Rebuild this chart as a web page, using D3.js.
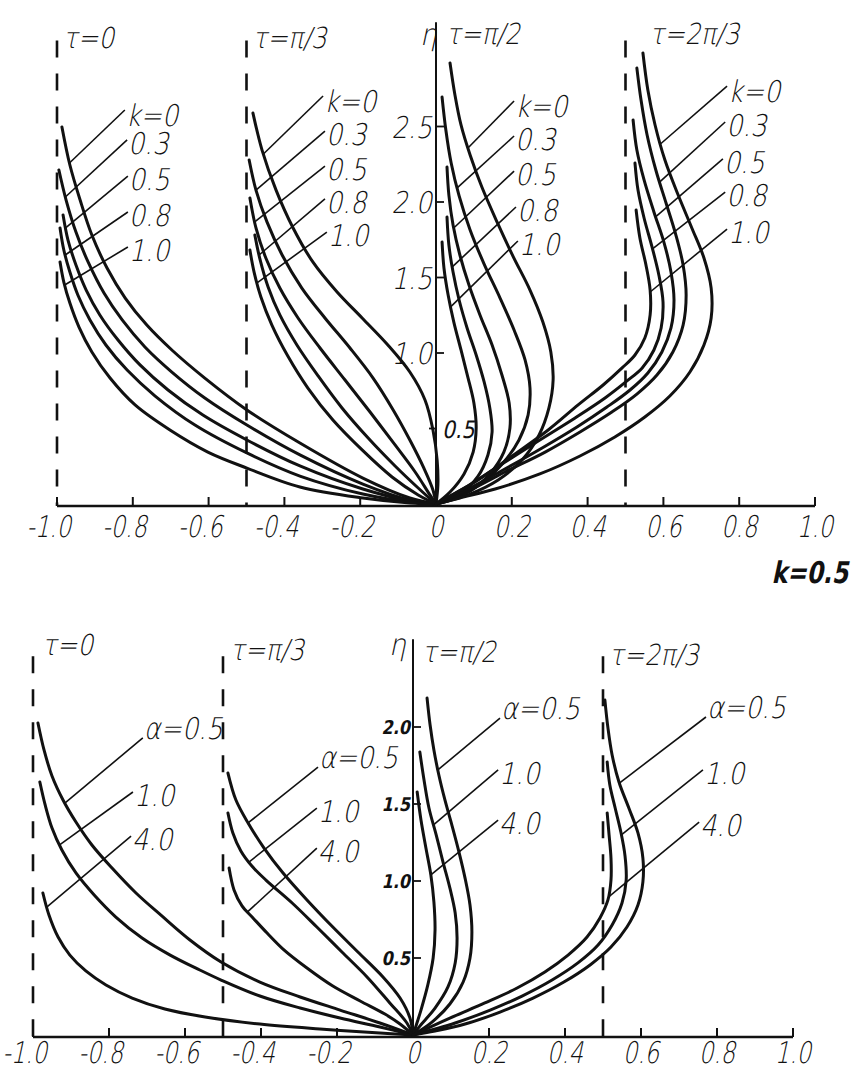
<!DOCTYPE html>
<html><head><meta charset="utf-8">
<script src="https://cdn.jsdelivr.net/npm/d3@7/dist/d3.min.js"></script>
<style>body{margin:0;background:#fff}</style>
</head><body><svg id="c" width="862" height="1072"></svg>
<script>
// ---------- DATA ----------
const xTicks = [-1.0,-0.8,-0.6,-0.4,-0.2,0,0.2,0.4,0.6,0.8,1.0];
const xTickLabels = ["-1.0","-0.8","-0.6","-0.4","-0.2","0","0.2","0.4","0.6","0.8","1.0"];
const etaTicksTop = [1.0,1.5,2.0,2.5];
const etaTickLabelsTop = ["1.0","1.5","2.0","2.5"];
const etaTicksBottom = [0.5,1.0,1.5,2.0];
const etaTickLabelsBottom = ["0.5","1.0","1.5","2.0"];
const tauLines = [-1.0,-0.5,0.5];
const tauLabels = ["τ=0","τ=π/3","τ=π/2","τ=2π/3"];

// top panel (k varies), tau = 0
const T0_k0  = [[-0.987,2.497],[-0.966,2.245],[-0.939,2.013],[-0.908,1.781],[-0.868,1.563],[-0.820,1.364],[-0.763,1.185],[-0.697,1.020],[-0.610,0.834],[-0.499,0.623],[-0.359,0.404],[-0.193,0.172],[-0.069,0.040],[0,0]];
const T0_k03 = [[-0.995,2.212],[-0.976,2.013],[-0.950,1.801],[-0.918,1.603],[-0.876,1.397],[-0.828,1.219],[-0.768,1.040],[-0.697,0.874],[-0.610,0.702],[-0.499,0.523],[-0.359,0.325],[-0.193,0.132],[-0.069,0.026],[0,0]];
const T0_k05 = [[-0.984,1.914],[-0.971,1.748],[-0.950,1.583],[-0.923,1.417],[-0.887,1.252],[-0.839,1.086],[-0.781,0.921],[-0.707,0.755],[-0.615,0.589],[-0.499,0.424],[-0.359,0.252],[-0.193,0.099],[-0.069,0.020],[0,0]];
const T0_k08 = [[-0.992,1.828],[-0.982,1.682],[-0.966,1.536],[-0.945,1.384],[-0.913,1.219],[-0.871,1.053],[-0.815,0.887],[-0.741,0.715],[-0.636,0.523],[-0.499,0.338],[-0.359,0.185],[-0.193,0.066],[-0.069,0.013],[0,0]];
const T0_k10 = [[-0.992,1.603],[-0.982,1.470],[-0.966,1.331],[-0.942,1.172],[-0.908,1.007],[-0.860,0.834],[-0.794,0.656],[-0.702,0.490],[-0.602,0.344],[-0.499,0.238],[-0.359,0.113],[-0.193,0.040],[-0.069,0.007],[0,0]];
// tau = pi/3
const T1_k0  = [[-0.483,2.589],[-0.459,2.344],[-0.422,2.079],[-0.377,1.828],[-0.325,1.603],[-0.261,1.404],[-0.195,1.232],[-0.127,1.053],[-0.069,0.874],[-0.029,0.689],[-0.008,0.490],[0.003,0.291],[0.005,0.126],[0,0]];
const T1_k03 = [[-0.493,2.278],[-0.475,2.079],[-0.446,1.868],[-0.406,1.649],[-0.354,1.430],[-0.293,1.232],[-0.227,1.033],[-0.166,0.834],[-0.113,0.623],[-0.069,0.424],[-0.032,0.238],[-0.008,0.093],[0,0]];
const T1_k05 = [[-0.491,2.026],[-0.475,1.828],[-0.449,1.629],[-0.412,1.430],[-0.364,1.232],[-0.306,1.033],[-0.240,0.821],[-0.174,0.609],[-0.108,0.391],[-0.055,0.212],[-0.016,0.060],[0,0]];
const T1_k08 = [[-0.478,1.781],[-0.464,1.616],[-0.443,1.437],[-0.412,1.252],[-0.367,1.053],[-0.311,0.848],[-0.248,0.636],[-0.179,0.437],[-0.108,0.252],[-0.047,0.106],[0,0]];
const T1_k10 = [[-0.491,1.682],[-0.480,1.536],[-0.462,1.371],[-0.433,1.185],[-0.391,0.980],[-0.338,0.768],[-0.272,0.556],[-0.195,0.358],[-0.116,0.179],[-0.047,0.060],[0,0]];
// tau = pi/2
const T2_k0  = [[0.037,2.921],[0.050,2.709],[0.066,2.510],[0.090,2.311],[0.121,2.099],[0.161,1.868],[0.203,1.642],[0.248,1.417],[0.282,1.205],[0.303,1.007],[0.309,0.821],[0.298,0.636],[0.272,0.457],[0.227,0.291],[0.164,0.159],[0.090,0.066],[0,0]];
const T2_k03 = [[0.016,2.695],[0.026,2.477],[0.040,2.258],[0.061,2.040],[0.090,1.815],[0.127,1.589],[0.169,1.364],[0.206,1.152],[0.235,0.954],[0.248,0.768],[0.243,0.589],[0.219,0.424],[0.177,0.272],[0.121,0.139],[0.058,0.046],[0,0]];
const T2_k05 = [[0.029,2.232],[0.034,2.046],[0.045,1.848],[0.063,1.649],[0.087,1.450],[0.116,1.252],[0.148,1.053],[0.174,0.854],[0.193,0.669],[0.195,0.503],[0.179,0.344],[0.142,0.199],[0.090,0.086],[0,0]];
const T2_k08 = [[0.029,1.901],[0.034,1.715],[0.045,1.536],[0.061,1.351],[0.082,1.166],[0.106,0.987],[0.127,0.808],[0.142,0.636],[0.148,0.477],[0.137,0.325],[0.111,0.185],[0.063,0.066],[0,0]];
const T2_k10 = [[0.016,1.735],[0.021,1.563],[0.032,1.384],[0.047,1.205],[0.066,1.020],[0.084,0.841],[0.100,0.669],[0.106,0.503],[0.098,0.344],[0.074,0.199],[0.037,0.079],[0,0]];
// tau = 2pi/3
const T3_k0  = [[0.546,2.987],[0.559,2.742],[0.578,2.510],[0.604,2.278],[0.639,2.046],[0.675,1.828],[0.707,1.629],[0.726,1.430],[0.726,1.232],[0.707,1.053],[0.670,0.874],[0.617,0.715],[0.551,0.576],[0.472,0.444],[0.380,0.318],[0.274,0.199],[0.156,0.099],[0.063,0.040],[0,0]];
const T3_k03 = [[0.530,2.887],[0.541,2.675],[0.557,2.444],[0.580,2.212],[0.607,1.993],[0.633,1.781],[0.652,1.583],[0.660,1.384],[0.652,1.185],[0.625,1.007],[0.583,0.854],[0.530,0.728],[0.464,0.609],[0.380,0.477],[0.288,0.344],[0.182,0.212],[0.090,0.093],[0,0]];
const T3_k05 = [[0.520,2.543],[0.530,2.344],[0.549,2.146],[0.575,1.934],[0.602,1.728],[0.620,1.536],[0.628,1.351],[0.620,1.166],[0.596,1.007],[0.559,0.868],[0.512,0.755],[0.451,0.642],[0.372,0.510],[0.280,0.371],[0.177,0.225],[0.084,0.099],[0,0]];
const T3_k08 = [[0.525,2.258],[0.533,2.079],[0.549,1.894],[0.570,1.702],[0.588,1.517],[0.599,1.338],[0.594,1.166],[0.575,1.020],[0.544,0.901],[0.504,0.815],[0.446,0.702],[0.367,0.570],[0.274,0.424],[0.174,0.265],[0.084,0.119],[0,0]];
const T3_k10 = [[0.528,1.947],[0.538,1.762],[0.554,1.583],[0.565,1.417],[0.565,1.252],[0.551,1.099],[0.525,0.987],[0.491,0.901],[0.441,0.788],[0.375,0.656],[0.296,0.490],[0.201,0.318],[0.111,0.159],[0.037,0.053],[0,0]];

// bottom panel (k = 0.5, alpha varies)
const B0_a05 = [[-0.987,2.026],[-0.971,1.851],[-0.950,1.682],[-0.921,1.526],[-0.887,1.383],[-0.845,1.234],[-0.792,1.084],[-0.729,0.922],[-0.661,0.773],[-0.587,0.617],[-0.505,0.474],[-0.403,0.344],[-0.297,0.247],[-0.192,0.162],[-0.087,0.078],[0,0]];
const B0_a10 = [[-0.982,1.643],[-0.968,1.494],[-0.950,1.344],[-0.924,1.201],[-0.887,1.052],[-0.839,0.909],[-0.782,0.766],[-0.713,0.630],[-0.639,0.519],[-0.561,0.422],[-0.505,0.357],[-0.403,0.253],[-0.297,0.175],[-0.192,0.110],[-0.087,0.052],[0,0]];
const B0_a40 = [[-0.974,0.922],[-0.958,0.779],[-0.934,0.636],[-0.903,0.519],[-0.861,0.416],[-0.808,0.325],[-0.739,0.240],[-0.653,0.169],[-0.547,0.117],[-0.403,0.071],[-0.245,0.039],[-0.087,0.013],[0,0]];
const B1_a05 = [[-0.487,1.701],[-0.466,1.526],[-0.434,1.377],[-0.392,1.214],[-0.342,1.052],[-0.279,0.877],[-0.211,0.701],[-0.145,0.539],[-0.079,0.377],[-0.034,0.240],[-0.008,0.110],[0,0]];
const B1_a10 = [[-0.487,1.442],[-0.474,1.312],[-0.453,1.195],[-0.424,1.097],[-0.387,1.006],[-0.318,0.857],[-0.253,0.701],[-0.187,0.539],[-0.121,0.377],[-0.061,0.208],[-0.016,0.078],[0,0]];
const B1_a40 = [[-0.484,1.084],[-0.471,0.942],[-0.450,0.838],[-0.421,0.760],[-0.384,0.662],[-0.342,0.558],[-0.279,0.435],[-0.211,0.318],[-0.139,0.221],[-0.074,0.136],[-0.034,0.071],[0,0]];
const B2_a05 = [[0.037,2.188],[0.045,2.013],[0.055,1.851],[0.068,1.688],[0.084,1.526],[0.103,1.357],[0.121,1.188],[0.137,1.019],[0.150,0.844],[0.155,0.669],[0.150,0.500],[0.132,0.344],[0.097,0.201],[0.050,0.084],[0,0]];
const B2_a10 = [[0.018,1.838],[0.029,1.656],[0.042,1.474],[0.061,1.299],[0.079,1.123],[0.097,0.955],[0.111,0.792],[0.116,0.630],[0.111,0.468],[0.092,0.312],[0.058,0.175],[0.018,0.058],[0,0]];
const B2_a40 = [[0.011,1.578],[0.021,1.396],[0.034,1.214],[0.047,1.039],[0.055,0.864],[0.058,0.682],[0.053,0.500],[0.039,0.325],[0.021,0.162],[0,0]];
const B3_a05 = [[0.505,2.175],[0.513,1.994],[0.524,1.818],[0.542,1.643],[0.568,1.474],[0.592,1.312],[0.605,1.149],[0.605,0.994],[0.592,0.844],[0.563,0.701],[0.521,0.571],[0.466,0.455],[0.397,0.344],[0.316,0.240],[0.229,0.149],[0.137,0.071],[0.058,0.026],[0,0]];
const B3_a10 = [[0.511,1.773],[0.518,1.623],[0.532,1.474],[0.547,1.318],[0.558,1.162],[0.561,1.006],[0.550,0.857],[0.524,0.714],[0.487,0.584],[0.434,0.468],[0.366,0.357],[0.287,0.253],[0.203,0.162],[0.111,0.078],[0,0]];
const B3_a40 = [[0.511,1.442],[0.516,1.299],[0.521,1.149],[0.521,1.006],[0.513,0.877],[0.492,0.760],[0.458,0.636],[0.408,0.519],[0.347,0.409],[0.274,0.305],[0.189,0.208],[0.097,0.110],[0,0]];

// leader annotations: [curve, label text, label x, label eta, hit eta]
const topLeaders = [
  [T0_k0,"k=0",-0.821,2.609,2.258],[T0_k03,"0.3",-0.815,2.411,2.033],[T0_k05,"0.5",-0.813,2.172,1.828],[T0_k08,"0.8",-0.813,1.934,1.649],[T0_k10,"1.0",-0.813,1.702,1.450],
  [T1_k0,"k=0",-0.298,2.702,2.318],[T1_k03,"0.3",-0.293,2.470,2.079],[T1_k05,"0.5",-0.293,2.238,1.868],[T1_k08,"0.8",-0.293,2.020,1.649],[T1_k10,"1.0",-0.288,1.801,1.464],
  [T2_k0,"k=0",0.206,2.669,2.358],[T2_k03,"0.3",0.206,2.437,2.093],[T2_k05,"0.5",0.206,2.205,1.828],[T2_k08,"0.8",0.211,1.967,1.570],[T2_k10,"1.0",0.216,1.742,1.305],
  [T3_k0,"k=0",0.768,2.768,2.384],[T3_k03,"0.3",0.763,2.530,2.132],[T3_k05,"0.5",0.757,2.285,1.901],[T3_k08,"0.8",0.763,2.066,1.689],[T3_k10,"1.0",0.768,1.821,1.404]
];
const bottomLeaders = [
  [B0_a05,"α=0.5",-0.711,1.929,1.506],[B0_a10,"1.0",-0.737,1.578,1.234],[B0_a40,"4.0",-0.742,1.292,0.831],
  [B1_a05,"α=0.5",-0.250,1.740,1.377],[B1_a10,"1.0",-0.253,1.474,1.123],[B1_a40,"4.0",-0.253,1.214,0.799],
  [B2_a05,"α=0.5",0.229,2.058,1.721],[B2_a10,"1.0",0.224,1.721,1.364],[B2_a40,"4.0",0.224,1.396,1.039],
  [B3_a05,"α=0.5",0.771,2.065,1.636],[B3_a10,"1.0",0.763,1.721,1.299],[B3_a40,"4.0",0.753,1.383,0.896]
];
const topCurves = [T0_k0,T0_k03,T0_k05,T0_k08,T0_k10,T1_k0,T1_k03,T1_k05,T1_k08,T1_k10,T2_k0,T2_k03,T2_k05,T2_k08,T2_k10,T3_k0,T3_k03,T3_k05,T3_k08,T3_k10];
const bottomCurves = [B0_a05,B0_a10,B0_a40,B1_a05,B1_a10,B1_a40,B2_a05,B2_a10,B2_a40,B3_a05,B3_a10,B3_a40];

// ---------- DRAW ----------
const svg = d3.select("#c");
const FONT = "'DejaVu Sans', 'Liberation Sans', sans-serif";
const ink = "#111";

function txt(x, y, s, o = {}) {
  const size = o.size || 30, sx = o.sx || 0.85;
  svg.append("text")
    .attr("transform", `translate(${x},${y}) skewX(-12) scale(${sx},1)`)
    .attr("font-family", FONT).attr("font-size", size)
    .attr("font-weight", o.weight || 300)
    .attr("text-anchor", o.anchor || "start")
    .attr("fill", ink).text(s);
}
function hitX(pts, eta) {
  for (let i = 0; i < pts.length - 1; i++) {
    const [x1, e1] = pts[i], [x2, e2] = pts[i + 1];
    if ((e1 - eta) * (e2 - eta) <= 0) { const t = (eta - e1) / ((e2 - e1) || 1); return x1 + t * (x2 - x1); }
  }
  return pts[0][0];
}

function panel(o) {
  const { x, y, curves, leaders, etaTicks, etaLabels, etaTop, dashTop, bold, labDy } = o;
  // x axis
  svg.append("line").attr("x1", x(-1)).attr("x2", x(1)).attr("y1", y(0) + 2).attr("y2", y(0) + 2)
    .attr("stroke", ink).attr("stroke-width", 2.6);
  xTicks.forEach((t, i) => {
    svg.append("line").attr("x1", x(t)).attr("x2", x(t)).attr("y1", y(0) + 2).attr("y2", y(0) - 7)
      .attr("stroke", ink).attr("stroke-width", 2);
    const lab = xTickLabels[i];
    const neg = lab.startsWith("-");
    txt(x(t) + (neg ? 14 : 0), y(0) + labDy, lab, { size: 30, anchor: neg ? "end" : "middle", sx: 0.76 });
  });
  // dashed tau lines
  tauLines.forEach(t => {
    svg.append("line").attr("x1", x(t)).attr("x2", x(t)).attr("y1", y(dashTop)).attr("y2", y(0) + 2)
      .attr("stroke", ink).attr("stroke-width", 2.6).attr("stroke-dasharray", "17,16");
  });
  // eta axis
  svg.append("line").attr("x1", x(0)).attr("x2", x(0)).attr("y1", y(etaTop)).attr("y2", y(0) + 2)
    .attr("stroke", ink).attr("stroke-width", 2);
  etaTicks.forEach((t, i) => {
    svg.append("line").attr("x1", x(0)).attr("x2", x(0) + 8).attr("y1", y(t)).attr("y2", y(t))
      .attr("stroke", ink).attr("stroke-width", 1.8);
    if (bold) txt(x(0) - 3, y(t) + 7, etaLabels[i], { size: 19, anchor: "end", weight: 700, sx: 0.85 });
    else txt(x(0) - 4, y(t) + 11, etaLabels[i], { size: 30, anchor: "end", sx: 0.85 });
  });
  // curves
  const line = d3.line().x(d => x(d[0])).y(d => y(d[1])).curve(d3.curveCatmullRom.alpha(0.5));
  curves.forEach(c => {
    svg.append("path").attr("d", line(c)).attr("fill", "none").attr("stroke", ink)
      .attr("stroke-width", 3).attr("stroke-linecap", "round");
  });
  // leaders and labels
  leaders.forEach(([c, lab, lx, le, he]) => {
    const hx = hitX(c, he);
    svg.append("line").attr("x1", x(lx)).attr("y1", y(le)).attr("x2", x(hx)).attr("y2", y(he))
      .attr("stroke", ink).attr("stroke-width", 1.6);
    const dy = lab.startsWith("k") ? 16 : lab.startsWith("α") ? 1 : 14;
    txt(x(lx) + 1, y(le) + dy, lab, { size: 30, sx: 0.85 });
  });
}

const xTop = d3.scaleLinear().domain([-1, 1]).range([57, 815]);
const yTop = d3.scaleLinear().domain([0, 1]).range([504, 353]);
const xBot = d3.scaleLinear().domain([-1, 1]).range([33, 793]);
const yBot = d3.scaleLinear().domain([0, 1]).range([1035, 881]);

panel({ x: xTop, y: yTop, curves: topCurves, leaders: topLeaders, etaTicks: etaTicksTop, etaLabels: etaTickLabelsTop, etaTop: 3.19, dashTop: 3.07, bold: false, labDy: 33 });
panel({ x: xBot, y: yBot, curves: bottomCurves, leaders: bottomLeaders, etaTicks: etaTicksBottom, etaLabels: etaTickLabelsBottom, etaTop: 2.57, dashTop: 2.46, bold: true, labDy: 28 });

// extra 0.5 tick label on top eta axis (right of axis)
svg.append("line").attr("x1", xTop(0) - 7).attr("x2", xTop(0)).attr("y1", yTop(0.5)).attr("y2", yTop(0.5))
  .attr("stroke", ink).attr("stroke-width", 1.8);
txt(xTop(0) + 6, yTop(0.5) + 9, "0.5", { size: 24, weight: 400, sx: 0.85 });

// tau labels
const tauX = [-1, -0.5, 0, 0.5];
const topTauDx = [6, 6, 10, 24], botTauDx = [9, 7, 9, 6];
tauLabels.forEach((s, i) => {
  txt(xTop(tauX[i]) + topTauDx[i], i < 2 ? 48 : 44, s, { size: 29, sx: 0.85 });
  txt(xBot(tauX[i]) + botTauDx[i], [655, 660, 662, 665][i], s, { size: 29, sx: 0.85 });
});
// eta symbols
txt(xTop(0) - 16, 45, "η", { size: 30, sx: 0.9 });
txt(xBot(0) - 24, 655, "η", { size: 30, sx: 0.9 });
// panel note
txt(848, 583, "k=0.5", { size: 30, anchor: "end", weight: 700, sx: 0.78 });
</script></body></html>
